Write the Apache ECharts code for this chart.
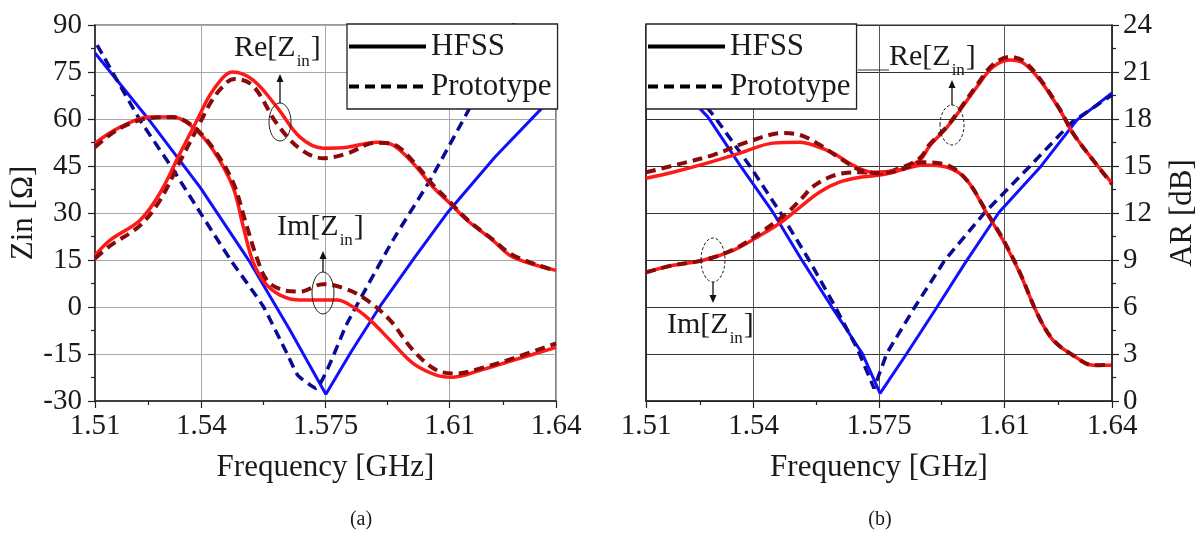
<!DOCTYPE html>
<html><head><meta charset="utf-8">
<script src="https://cdn.jsdelivr.net/npm/echarts@6/dist/echarts.min.js"></script>
<style>html,body{margin:0;padding:0;background:#fff}#c{width:1202px;height:534px}</style>
</head><body><div id="c"></div>
<script>
const FONT = '"Liberation Serif", "Times New Roman", serif';
const TXT = '#1a1a1a';

// ---- axis ticks ----
const freqTicks = [1.51, 1.54, 1.575, 1.61, 1.64];
const freqMinorTicks = [1.525, 1.5575, 1.5925, 1.625];
const zinRange = [-30, 90, 15];
const arRange = [0, 24, 3];

// ---- panel (a): Zin in Ohm ----
const reHfssA = [[1.51,16.5],[1.5142,21.3],[1.5227,27.7],[1.5283,36.3],[1.534,49.1],[1.5388,59.7],[1.5433,69.2],[1.5489,75.0],[1.5546,72.4],[1.5613,63.8],[1.5678,54.2],[1.5743,50.7],[1.5811,51.0],[1.5895,52.6],[1.594,51.7],[1.5997,45.9],[1.6053,38.3],[1.6101,33.1],[1.6149,27.7],[1.6222,21.3],[1.6279,15.9],[1.64,11.7]];
const reProtoA = [[1.51,15.5],[1.5142,19.5],[1.5227,26.0],[1.5283,34.0],[1.534,46.5],[1.5388,57.0],[1.5433,66.5],[1.5475,72.0],[1.5495,72.8],[1.5546,70.5],[1.5613,58.5],[1.5678,50.5],[1.5743,47.5],[1.5811,49.0],[1.587,52.0],[1.5895,52.4],[1.594,52.0],[1.5997,46.5],[1.6053,39.0],[1.6101,33.5],[1.6149,28.0],[1.6222,21.5],[1.6279,16.5],[1.64,11.5]];
const imHfssA = [[1.51,52.3],[1.5171,57.4],[1.5255,60.6],[1.532,60.6],[1.5376,57.4],[1.5433,50.1],[1.5489,38.3],[1.5517,26.1],[1.5546,14.3],[1.558,7.6],[1.5622,3.8],[1.5678,2.2],[1.5782,2.2],[1.5828,0.0],[1.5876,-4.2],[1.5932,-10.6],[1.5997,-18.0],[1.6064,-21.8],[1.611,-22.4],[1.6186,-20.2],[1.6279,-17.0],[1.64,-12.9]];
const imProtoA = [[1.51,51.0],[1.5171,57.1],[1.5255,60.3],[1.532,60.6],[1.5376,57.7],[1.5433,50.7],[1.5489,39.9],[1.5523,27.7],[1.5554,16.5],[1.5585,8.5],[1.563,5.4],[1.5678,4.9],[1.5743,7.3],[1.5811,5.6],[1.5867,2.2],[1.5932,-4.2],[1.5997,-13.8],[1.6064,-20.2],[1.6121,-21.2],[1.6186,-19.6],[1.6279,-16.4],[1.64,-11.6]];
// panel (a): AR in dB (hidden scale)
const arHfssA = [[1.51,22.21],[1.5255,17.87],[1.5396,13.65],[1.5537,8.86],[1.565,4.52],[1.5751,0.43],[1.5825,3.24],[1.5904,6.05],[1.6002,9.18],[1.6095,12.05],[1.6228,15.57],[1.6363,18.76],[1.64,19.66]];
const arProtoA = [[1.5106,22.72],[1.5227,17.93],[1.5312,15.06],[1.5396,12.05],[1.5481,9.05],[1.5574,6.05],[1.5641,3.05],[1.5672,1.64],[1.5723,0.81],[1.5811,4.96],[1.594,10.26],[1.6045,14.1],[1.6158,18.76],[1.6279,24.0],[1.633,26.2]];

// ---- panel (b): Zin in Ohm (unlabelled left scale) ----
const reHfssB = [[1.51,11.1],[1.5175,13.3],[1.5259,14.9],[1.5343,18.1],[1.541,22.3],[1.5474,26.8],[1.553,31.9],[1.5585,36.7],[1.5641,39.9],[1.5697,41.4],[1.5753,42.1],[1.5808,43.7],[1.5864,46.9],[1.5892,51.5],[1.594,57.4],[1.5976,62.8],[1.6023,70.2],[1.6068,76.6],[1.6115,78.8],[1.6152,77.9],[1.6199,72.4],[1.6255,62.8],[1.6291,55.5],[1.6347,46.9],[1.64,39.5]];
const reProtoB = [[1.51,11.1],[1.5175,13.3],[1.5259,14.9],[1.5343,18.3],[1.541,23.0],[1.5493,30.0],[1.5538,35.1],[1.5563,38.2],[1.5605,41.1],[1.565,42.7],[1.5697,43.0],[1.5753,42.7],[1.5808,44.3],[1.5864,47.5],[1.5892,52.0],[1.594,57.6],[1.5976,63.2],[1.6023,70.8],[1.6068,77.4],[1.6115,79.8],[1.6152,78.6],[1.6199,72.8],[1.6255,63.0],[1.6291,55.5],[1.6347,46.9],[1.64,39.2]];
const imHfssB = [[1.51,41.1],[1.5175,43.0],[1.527,45.9],[1.5362,49.1],[1.5454,52.3],[1.553,52.6],[1.5566,51.7],[1.5622,49.1],[1.5677,45.3],[1.5733,43.0],[1.5808,43.7],[1.5873,45.3],[1.594,44.6],[1.5995,40.5],[1.6051,29.9],[1.6096,21.3],[1.6143,10.8],[1.6191,-2.0],[1.6235,-10.6],[1.6291,-15.4],[1.6347,-18.6],[1.64,-18.6]];
const imProtoB = [[1.51,43.0],[1.5203,45.9],[1.5287,48.5],[1.5382,52.6],[1.5482,55.5],[1.553,54.9],[1.5577,52.3],[1.5641,47.5],[1.5697,43.7],[1.5753,42.7],[1.5808,43.7],[1.5873,46.2],[1.594,45.3],[1.5995,40.5],[1.6051,30.2],[1.6096,21.6],[1.6143,11.0],[1.6191,-2.0],[1.6235,-10.4],[1.6291,-15.4],[1.6347,-18.6],[1.64,-18.4]];
// panel (b): AR in dB (right scale)
const arHfssB = [[1.51,22.28],[1.5273,18.12],[1.5362,15.06],[1.5454,12.05],[1.5535,8.99],[1.5619,5.98],[1.5703,3.05],[1.5753,0.49],[1.5828,3.05],[1.5912,6.0],[1.599,8.8],[1.6085,12.05],[1.6202,14.99],[1.6302,17.93],[1.64,19.66]];
const arProtoB = [[1.51,23.5],[1.5292,18.12],[1.539,14.99],[1.5474,12.05],[1.5552,9.11],[1.5624,6.18],[1.5689,3.36],[1.5736,0.81],[1.5772,3.05],[1.585,6.0],[1.5934,9.0],[1.6046,12.05],[1.6171,14.99],[1.6288,17.8],[1.64,19.53]];

const legendNames = ['HFSS', 'Prototype'];

const chart = echarts.init(document.getElementById('c'), null, {renderer: 'canvas'});

function xMain(gridIndex, gridColor) {
  return {
    type: 'value', gridIndex, min: freqTicks[0], max: freqTicks[freqTicks.length - 1], position: 'bottom',
    axisLine: {show: true, onZero: false, lineStyle: {color: '#222', width: 1.5}},
    axisTick: {show: true, customValues: freqTicks, length: 7, lineStyle: {color: '#222', width: 1.2}},
    axisLabel: {show: true, customValues: freqTicks, margin: 11, fontSize: 29, fontFamily: FONT, color: TXT, formatter: v => String(v)},
    splitLine: {show: true, lineStyle: {color: gridColor, width: 1}},
    minorTick: {show: false},
    name: 'Frequency [GHz]', nameLocation: 'middle', nameGap: 51,
    nameTextStyle: {fontSize: 31, fontFamily: FONT, color: TXT}
  };
}
function xMinor(gridIndex) {
  return {
    type: 'value', gridIndex, min: freqTicks[0], max: freqTicks[freqTicks.length - 1], position: 'bottom',
    axisLine: {show: false, onZero: false},
    axisTick: {show: true, customValues: freqMinorTicks, length: 4, lineStyle: {color: '#222', width: 1.2}},
    axisLabel: {show: false}, splitLine: {show: false}
  };
}

function line(name, data, xi, yi, color, dashed, width, smooth) {
  return {
    type: 'line', name, data, xAxisIndex: xi, yAxisIndex: yi, showSymbol: false, symbol: 'none',
    smooth: smooth, clip: true, z: 3,
    lineStyle: {color, width, type: dashed ? [10, 6] : 'solid', cap: 'butt'},
    itemStyle: {color}, emphasis: {disabled: true}
  };
}

const RED = '#ff1a1a', DRED = '#8a0a0a', BLUE = '#1010ff', DBLUE = '#0a0a96';

function legend(left) {
  return {
    data: legendNames, orient: 'vertical', left, top: 24, itemWidth: 77, itemHeight: 14, itemGap: 9,
    padding: [7, 6, 7, 0], backgroundColor: '#fff', borderColor: '#222', borderWidth: 1.3,
    itemStyle: {opacity: 0},
    lineStyle: {width: 4, color: '#000'},
    textStyle: {fontSize: 31, fontFamily: FONT, color: TXT, lineHeight: 30}, selectedMode: false, z: 10
  };
}

function annText(x, y, main) {
  return {type: 'text', x, y, z: 20, style: {
    text: '{a|' + main + '[Z}{s|in}{a|]}', fill: TXT,
    rich: {a: {fontSize: 30, fontFamily: FONT, fill: TXT}, s: {fontSize: 17, fontFamily: FONT, fill: TXT, padding: [26, 1, 0, 1]}}
  }};
}
function ellipse(cx, cy, rx, ry, dashed) {
  return {type: 'ellipse', shape: {cx, cy, rx, ry}, z: 20, style: {fill: 'none', stroke: '#222', lineWidth: 1, lineDash: dashed ? [3, 2] : null}};
}
function arrow(x, y1, y2) {
  const dir = y2 < y1 ? -1 : 1;
  return [
    {type: 'line', shape: {x1: x, y1: y1, x2: x, y2: y2 - dir * 6}, z: 20, style: {stroke: '#111', lineWidth: 1.3}},
    {type: 'polygon', shape: {points: [[x, y2], [x - 3.5, y2 - dir * 8], [x + 3.5, y2 - dir * 8]]}, z: 20, style: {fill: '#111'}}
  ];
}

const option = {
  animation: false,
  backgroundColor: '#fff',
  grid: [
    {left: 95, top: 25, width: 461, height: 376, show: true, borderColor: '#333', borderWidth: 1.2, backgroundColor: 'transparent'},
    {left: 646, top: 25, width: 466, height: 376, show: true, borderColor: '#333', borderWidth: 1.2, backgroundColor: 'transparent'}
  ],
  xAxis: [xMain(0, '#a8a8a8'), xMinor(0), xMain(1, '#555'), xMinor(1)],
  yAxis: [
    {type: 'value', gridIndex: 0, position: 'left', min: zinRange[0], max: zinRange[1], interval: zinRange[2],
     axisLine: {show: true, onZero: false, lineStyle: {color: '#222', width: 1.5}},
     axisTick: {show: true, length: 7, lineStyle: {color: '#222', width: 1.2}},
     minorTick: {show: true, splitNumber: 2, length: 4, lineStyle: {color: '#222', width: 1.2}},
     axisLabel: {margin: 13, fontSize: 29, fontFamily: FONT, color: TXT},
     splitLine: {show: true, lineStyle: {color: '#a8a8a8', width: 1}},
     name: 'Zin [Ω]', nameLocation: 'middle', nameRotate: 90, nameGap: 55,
     nameTextStyle: {fontSize: 31, fontFamily: FONT, color: TXT}},
    {type: 'value', gridIndex: 0, position: 'right', min: arRange[0], max: arRange[1], interval: arRange[2], show: false, splitLine: {show: false}},
    {type: 'value', gridIndex: 1, position: 'left', min: zinRange[0], max: zinRange[1], interval: zinRange[2],
     axisLine: {show: true, onZero: false, lineStyle: {color: '#222', width: 1.5}},
     axisTick: {show: false}, axisLabel: {show: false},
     splitLine: {show: true, lineStyle: {color: '#333', width: 1}}},
    {type: 'value', gridIndex: 1, position: 'right', min: arRange[0], max: arRange[1], interval: arRange[2],
     axisLine: {show: true, onZero: false, lineStyle: {color: '#222', width: 1.5}},
     axisTick: {show: true, length: 7, lineStyle: {color: '#222', width: 1.2}},
     minorTick: {show: true, splitNumber: 2, length: 4, lineStyle: {color: '#222', width: 1.2}},
     axisLabel: {margin: 11, fontSize: 29, fontFamily: FONT, color: TXT},
     splitLine: {show: false},
     name: 'AR [dB]', nameLocation: 'middle', nameRotate: 90, nameGap: 55,
     nameTextStyle: {fontSize: 31, fontFamily: FONT, color: TXT}}
  ],
  legend: [legend(347), legend(646)],
  series: [
    // legend-only entries (single point outside the visible range)
    {type: 'line', name: 'HFSS', data: [[1.0, 0]], xAxisIndex: 0, yAxisIndex: 0, symbol: 'none', showSymbol: false, clip: true, lineStyle: {color: '#000', width: 4, type: 'solid'}, itemStyle: {color: '#000'}},
    {type: 'line', name: 'Prototype', data: [[1.0, 0]], xAxisIndex: 0, yAxisIndex: 0, symbol: 'none', showSymbol: false, clip: true, lineStyle: {color: '#000', width: 4, type: [10, 6]}, itemStyle: {color: '#000'}},
    // panel a
    line('AR HFSS (a)', arHfssA, 0, 1, BLUE, false, 3, false),
    line('AR Prototype (a)', arProtoA, 0, 1, DBLUE, true, 3.5, 0.15),
    line('Re HFSS (a)', reHfssA, 0, 0, RED, false, 3.5, 0.35),
    line('Re Prototype (a)', reProtoA, 0, 0, DRED, true, 4, 0.35),
    line('Im HFSS (a)', imHfssA, 0, 0, RED, false, 3.5, 0.35),
    line('Im Prototype (a)', imProtoA, 0, 0, DRED, true, 4, 0.35),
    // panel b
    line('AR HFSS (b)', arHfssB, 2, 3, BLUE, false, 3, false),
    line('AR Prototype (b)', arProtoB, 2, 3, DBLUE, true, 3.5, false),
    line('Re HFSS (b)', reHfssB, 2, 2, RED, false, 3.5, 0.35),
    line('Re Prototype (b)', reProtoB, 2, 2, DRED, true, 4, 0.35),
    line('Im HFSS (b)', imHfssB, 2, 2, RED, false, 3.5, 0.35),
    line('Im Prototype (b)', imProtoB, 2, 2, DRED, true, 4, 0.35)
  ],
  graphic: [
    annText(234, 27, 'Re'),
    ellipse(280, 122, 11, 19, false),
    ...arrow(280, 103, 74),
    annText(277, 206, 'Im'),
    ellipse(323, 293, 11, 21, false),
    ...arrow(323, 272, 251),
    annText(889, 36, 'Re'),
    {type: 'line', shape: {x1: 858, y1: 70, x2: 889, y2: 70}, z: 20, style: {stroke: '#333', lineWidth: 1}},
    ellipse(952, 125, 12, 20, true),
    ...arrow(952, 105, 80),
    ellipse(713, 260, 12, 22, true),
    ...arrow(713, 282, 303),
    annText(667, 304, 'Im'),
    {type: 'text', x: 361, y: 520, z: 20, style: {text: '(a)', fontSize: 20, fontFamily: FONT, fill: TXT, align: 'center', verticalAlign: 'middle'}},
    {type: 'text', x: 880, y: 520, z: 20, style: {text: '(b)', fontSize: 20, fontFamily: FONT, fill: TXT, align: 'center', verticalAlign: 'middle'}}
  ]
};
chart.setOption(option);
</script>
</body></html>
